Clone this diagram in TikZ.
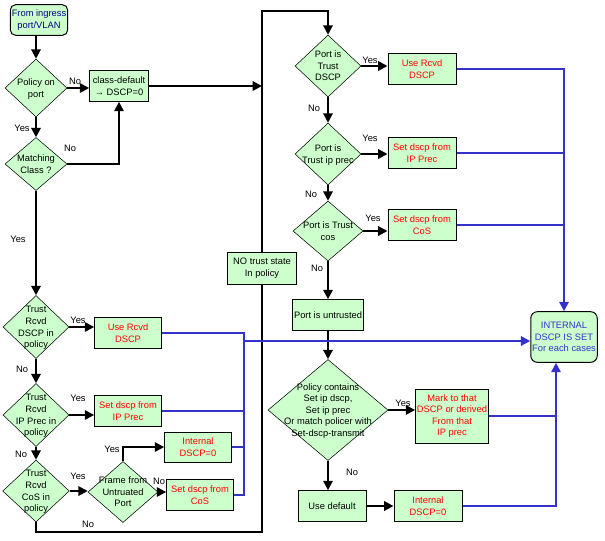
\documentclass[tikz,border=0pt]{standalone}
\usepackage{fontspec}
\setmainfont{Liberation Sans}
\usetikzlibrary{shapes.geometric, arrows.meta, calc}
\definecolor{paleink}{RGB}{204, 255, 204}
\definecolor{bluink}{RGB}{51, 51, 204}
\definecolor{redink}{RGB}{255, 0, 0}
\definecolor{navyink}{RGB}{0, 0, 128}
\newcommand{\dtext}[1]{\smash{\makebox[0pt]{\raisebox{-2.5pt}{\begin{tabular}{@{}c@{}}#1\end{tabular}}}}}

\begin{document}
\begin{tikzpicture}[x=0.75pt, y=-0.75pt, font=\fontsize{7}{8.7}\selectfont,
  arr/.style={line width=1.5pt, -{Triangle[length=7pt, width=7pt]}},
  line/.style={line width=1.5pt},
  bline/.style={line width=1.5pt, bluink},
  barr/.style={bline, -{Triangle[length=7pt, width=7pt]}},
  box/.style={draw, fill=paleink, line width=0.75pt, minimum width=51pt, minimum height=23pt, inner sep=1pt, align=center},
  dec/.style={diamond, draw, fill=paleink, line width=0.4pt, inner sep=0pt}]
  \useasboundingbox (0,0) rectangle (605,540);

  \node[box, rounded corners=4pt, minimum width=43pt, text=navyink] (ing) at (39,20) {From ingress\\port/VLAN};
  \node[dec, minimum width=46.5pt, minimum height=43.5pt] (pop) at (36,88) {\dtext{Policy on\\port}};
  \node[box, minimum width=44pt, minimum height=23pt] (cd) at (119,86) {class-default\\→ DSCP=0};
  \node[dec, minimum width=46.5pt, minimum height=39.75pt] (mc) at (36,164) {\dtext{Matching\\Class ?}};
  \node[dec, minimum width=49.5pt, minimum height=47.25pt] (tdscp) at (36,327) {\dtext{Trust\\Rcvd\\DSCP in\\policy}};
  \node[dec, minimum width=49.5pt, minimum height=47.25pt] (tprec) at (36,415) {\dtext{Trust\\Rcvd\\IP Prec in\\policy}};
  \node[dec, minimum width=50pt, minimum height=46.5pt] (tcos) at (36,491) {\dtext{Trust\\Rcvd\\CoS in\\policy}};
  \node[dec, minimum width=52.5pt, minimum height=45.75pt] (frm) at (123,492) {\dtext{Frame from\\Untruated\\Port}};
  \node[box, text=redink, minimum width=50pt] (urd) at (128,333) {Use Rcvd\\DSCP};
  \node[box, text=redink, minimum width=50pt] (sip) at (128,411) {Set dscp from\\IP Prec};
  \node[box, text=redink, minimum width=50pt, minimum height=22.5pt] (izero) at (198,447) {Internal\\DSCP=0};
  \node[box, text=redink, minimum width=50pt] (scos) at (200,495) {Set dscp from\\CoS};
  \node[box, minimum width=52pt, minimum height=24pt] (nts) at (262,268) {NO trust state\\In policy};

  \node[dec, minimum width=49.5pt, minimum height=46.5pt] (ptd) at (328,66) {\dtext{Port is\\Trust\\DSCP}};
  \node[dec, minimum width=49.5pt, minimum height=46.5pt] (ptp) at (328,154) {\dtext{Port is\\Trust ip prec}};
  \node[dec, minimum width=52.5pt, minimum height=45pt] (ptc) at (328,231) {\dtext{Port is Trust\\cos}};
  \node[box, text=redink] (rrd) at (422,69) {Use Rcvd\\DSCP};
  \node[box, text=redink] (rip) at (422,153) {Set dscp from\\IP Prec};
  \node[box, text=redink] (rcos) at (422,225) {Set dscp from\\CoS};
  \node[box] (pu) at (328,315) {Port is untrusted};
  \node[dec, minimum width=90pt, minimum height=75.75pt] (pc) at (328,410) {\dtext{Policy contains\\Set ip dscp,\\Set ip prec\\Or match policer with\\Set-dscp-transmit}};
  \node[box, text=redink, minimum height=40.5pt] (mark) at (452,416) {Mark to that\\DSCP or derived\\From that\\IP prec};
  \node[box] (udef) at (332,506) {Use default};
  \node[box, text=redink] (izerob) at (428,506) {Internal\\DSCP=0};
  \node[box, rounded corners=5pt, text=bluink, minimum width=48pt, minimum height=38pt] (ids) at (564,337) {INTERNAL\\DSCP IS SET\\For each cases};

  \coordinate (tl) at (262,11);
  \coordinate (bl) at (262,532);
  \coordinate (lc) at (244,341);
  \coordinate (bc) at ($(ids.south)+(-8,0)$);

  \draw[arr] (ing.south -| pop.north) -- (pop.north);
  \draw[arr] (pop.east) -- (pop.east -| cd.west);
  \draw[arr] (cd.east) -- (cd.east -| tl);
  \draw[arr] (pop) -- (mc);
  \draw[arr] (mc.east) -| (cd.south);
  \draw[arr] (mc) -- (tdscp);
  \draw[arr] (tdscp.east) -- (tdscp.east -| urd.west);
  \draw[arr] (tdscp) -- (tprec);
  \draw[arr] (tprec.east) -- (tprec.east -| sip.west);
  \draw[arr] (tprec) -- (tcos);
  \draw[arr] (tcos.east) -- (tcos.east -| frm.west);
  \draw[arr] (frm.north) |- (izero.west);
  \draw[arr] (frm.east) -- (frm.east -| scos.west);
  \draw[line] (tcos.south) |- (bl) -- (nts.south);
  \draw[arr] (nts.north) |- (ptd.north |- tl) -- (ptd.north);

  \draw[arr] (ptd.east) -- (ptd.east -| rrd.west);
  \draw[arr] (ptd) -- (ptp);
  \draw[arr] (ptp.east) -- (ptp.east -| rip.west);
  \draw[arr] (ptp) -- (ptc);
  \draw[arr] (ptc.east) -- (ptc.east -| rcos.west);
  \draw[arr] (ptc) -- (pu);
  \draw[arr] (pu) -- (pc);
  \draw[arr] (pc.east) -- (pc.east -| mark.west);
  \draw[arr] (pc.south) -- (pc.south |- udef.north);
  \draw[arr] (udef) -- (izerob);

  \draw[bline] (urd.east) -| (lc);
  \draw[bline] (sip.east) -| (lc);
  \draw[bline] (izero.east) -| (lc);
  \draw[bline] (scos.east) -| (lc);
  \draw[barr] (lc) -- (lc -| ids.west);
  \draw[barr] (rrd.east) -| (ids.north);
  \draw[bline] (rip.east) -- (rip.east -| ids.north);
  \draw[bline] (rcos.east) -- (rcos.east -| ids.north);
  \draw[barr] (izerob.east) -| (bc);
  \draw[bline] (mark.east) -- (mark.east -| bc);

  \node (no1) at (75,81) {No};
  \node (yes1) at (22,128) {Yes};
  \node (no2) at (70,148) {No};
  \node (yes2) at (18,239) {Yes};
  \node (yes3) at (78,320) {Yes};
  \node (no3) at (22,369) {No};
  \node (yes4) at (78,398) {Yes};
  \node (no4) at (21,454) {No};
  \node (yes5) at (78,476) {Yes};
  \node (yes6) at (112,449) {Yes};
  \node (no5) at (159,481) {No};
  \node (no6) at (88,524) {No};
  \node (yes7) at (370,60) {Yes};
  \node (no7) at (314,108) {No};
  \node (yes8) at (370,138) {Yes};
  \node (no8) at (311,194) {No};
  \node (yes9) at (373,218) {Yes};
  \node (no9) at (317,268) {No};
  \node (yes10) at (403,403) {Yes};
  \node (no10) at (352,472) {No};
\end{tikzpicture}
\end{document}
